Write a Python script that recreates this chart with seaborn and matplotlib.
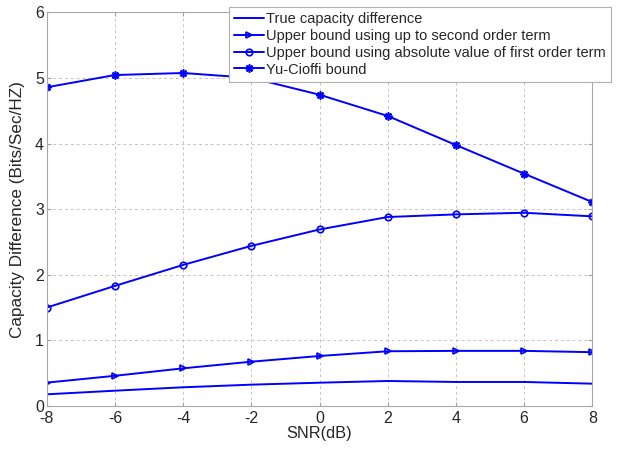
import numpy as np
import pandas as pd
import seaborn as sns
import matplotlib.pyplot as plt

snr = [-8, -6, -4, -2, 0, 2, 4, 6, 8]
true_diff = [0.178, 0.233, 0.285, 0.325, 0.355, 0.381, 0.366, 0.366, 0.34]
second_order = [0.356, 0.46, 0.574, 0.675, 0.762, 0.834, 0.84, 0.84, 0.82]
abs_first = [1.50, 1.83, 2.15, 2.44, 2.69, 2.88, 2.92, 2.945, 2.89]
yu_cioffi = [4.857, 5.044, 5.075, 5.0, 4.744, 4.42, 3.977, 3.54, 3.108]

labels = ["True capacity difference",
          "Upper bound using up to second order term",
          "Upper bound using absolute value of first order term",
          "Yu-Cioffi bound"]

sns.set_style("whitegrid")
plt.rcParams['font.family'] = ['Liberation Sans', 'DejaVu Sans']
plt.rcParams['axes.unicode_minus'] = False

fig = plt.figure(figsize=(6.21, 4.49), dpi=100)
ax = fig.add_axes([0.0752, 0.0958, 0.8786, 0.8768])

blue = '#0000ff'
# (values, marker, size)
series = [(true_diff, None, 0), (second_order, '>', 4.6),
          (abs_first, 'o', 4.7), (yu_cioffi, (8, 2, 0), 5.8)]
for (vals, mk, ms), lab in zip(series, labels):
    df = pd.DataFrame({'snr': snr, 'val': vals})
    kw = dict(color=blue, linewidth=1.4, label=lab)
    if mk is not None:
        kw.update(marker=mk, markersize=ms, markerfacecolor='none',
                  markeredgecolor=blue, markeredgewidth=1.2)
    sns.lineplot(data=df, x='snr', y='val', ax=ax, **kw)

ax.set_xlim(-8, 8)
ax.set_ylim(0, 6)
ax.set_xticks(snr)
ax.set_yticks(range(0, 7))
ax.set_xlabel('SNR(dB)', fontsize=11.8, labelpad=0)
ax.set_ylabel('Capacity Difference (Bits/Sec/HZ)', fontsize=12.3)
ax.yaxis.set_label_coords(-0.040, 0.5)
ax.tick_params(axis='both', labelsize=11.5, direction='in', length=3, pad=2,
               color='#a0a0a0', bottom=True, left=True, top=True, right=True)
ax.tick_params(axis='x', pad=3.5)
ax.grid(True, linestyle=(0, (3, 3)), color='#c4c4c4', linewidth=0.7)
for s in ax.spines.values():
    s.set_color('#a8a8a8')
    s.set_linewidth(0.8)

if ax.get_legend():
    ax.get_legend().remove()
h, l = ax.get_legend_handles_labels()
leg = fig.legend(h, l, loc='upper right', bbox_to_anchor=(610.7 / 621, 1 - 6.7 / 449),
                 fontsize=10.5, frameon=True, fancybox=False, handlelength=2.0,
                 markerscale=1.0, borderpad=0.35, labelspacing=0.2,
                 handletextpad=0.15, borderaxespad=0)
leg.get_frame().set_edgecolor('#b0b0b0')
leg.get_frame().set_linewidth(0.8)
leg.get_frame().set_alpha(1)

fig.savefig('out.png', dpi=100)
